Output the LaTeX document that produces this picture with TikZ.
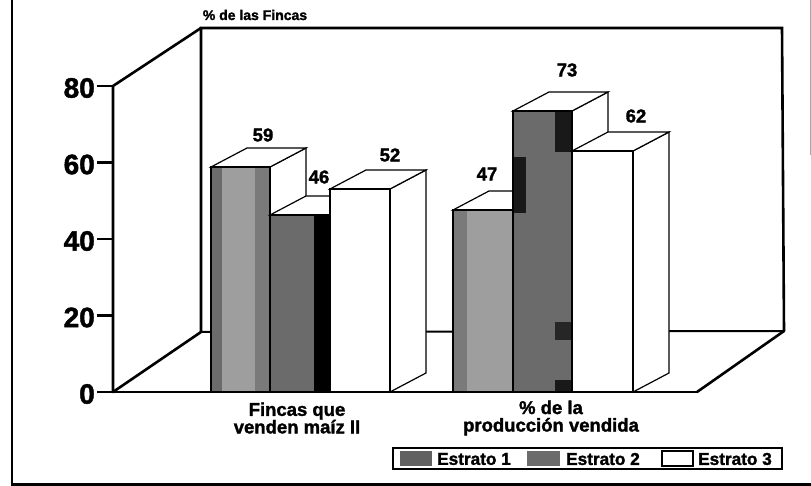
\documentclass[tikz,border=0pt]{standalone}
\usepackage{fontspec}
\setmainfont{Liberation Sans}
\newfontfamily\heavy{Liberation Sans Bold}[FakeBold=1.6]
\newcommand\drawbox[5]{%
  \filldraw[barline, fill=white] (#1+#2,#3) -- ++(36,-19) -- (#1+#2+36,373) -- (#1+#2,392) -- cycle;
  \filldraw[barline, fill=white] (#1,#3) -- ++(36,-19) -- ++(#2,0) -- (#1+#2,#3) -- cycle;
  \fill[#4] (#1,#3) rectangle (#1+#2,392);
  #5
  \draw[barline] (#1,#3) rectangle (#1+#2,392);
}
\begin{document}
\begin{tikzpicture}[x=1pt,y=-1pt,
  wall/.style={line width=2.6pt, line join=miter, line cap=round},
  barline/.style={line width=1.2pt, line join=miter},
  axlbl/.style={font=\heavy\fontsize{28}{28}\selectfont, inner sep=0pt, anchor=east},
  vallbl/.style={font=\heavy\fontsize{18.5}{18.5}\selectfont, inner sep=0pt},
  catlbl/.style={font=\heavy\fontsize{18.5}{17.5}\selectfont, inner sep=0pt, align=center},
  leglbl/.style={font=\heavy\fontsize{17.2}{17.2}\selectfont, inner sep=0pt, anchor=west},
  estA/.style={fill=black!38},
  estB/.style={fill=black!58}]
\useasboundingbox (0,0) rectangle (811,486);
\fill[white] (0,0) rectangle (811,486);
% outer frame
\draw[line width=2.4pt] (12,0) -- (12,484.5) -- (811,484.5);
\draw[black!35, line width=1pt] (810,0) -- (810,155);
% back wall and floor
\draw[wall] (201,332) -- (201,28) -- (782,28) -- (784,331);
\draw[line width=2pt] (201,332) -- (784,331);
\draw[wall] (113,392) -- (201,332);
\draw[wall] (113,392) -- (113,86) -- (201,28);
\draw[wall] (697,392) -- (784,331);
% ticks and axis labels
\foreach \v/\yy in {0/392,20/315.5,40/239,60/162.5,80/86}{
  \draw[line width=2.4pt] (97,\yy) -- (113,\yy);
  \node[axlbl] (ax\v) at (95,\yy+2) {\v};
}
\node[font=\heavy\fontsize{14}{14}\selectfont, inner sep=0pt] (title) at (255,15) {\% de las Fincas};
% group 1
\drawbox{211}{59}{167}{estA}{%
  \fill[black!58] (211,167) rectangle (222,392);
  \fill[black!52] (255,167) rectangle (270,392);}
\drawbox{270}{60}{215}{estB}{%
  \fill[black] (314,215) rectangle (330,392);}
\drawbox{330}{60}{189}{white}{}
% group 2
\drawbox{453}{60}{210}{estA}{%
  \fill[black!52] (453,210) rectangle (467,392);}
\drawbox{513}{59}{111}{estB}{%
  \fill[black!90] (555,111) rectangle (572,152);
  \fill[black!90] (513,157) rectangle (526,213);
  \fill[black!85] (555,322) rectangle (572,340);
  \fill[black!90] (555,380) rectangle (572,392);}
\drawbox{572}{61}{151}{white}{}
% floor front edge
\draw[line width=2.2pt] (113,392) -- (697,392);
% value labels
\node[vallbl] (v59) at (263,135) {59};
\node[vallbl] (v46) at (319,177) {46};
\node[vallbl] (v52) at (390,155) {52};
\node[vallbl] (v47) at (487,174) {47};
\node[vallbl] (v73) at (567,70) {73};
\node[vallbl] (v62) at (636,116) {62};
% category labels
\node[catlbl] (cat1) at (297,418) {Fincas que\\venden maíz II};
\node[catlbl] (cat2) at (551,418) {\% de la\\producción vendida};
% legend
\draw[line width=1.4pt] (393,448) rectangle (782,469);
\fill[black!62] (400,451) rectangle (432,466);
\node[leglbl] (l1) at (437,459) {Estrato 1};
\fill[black!58] (527,451) rectangle (560,466);
\node[leglbl] (l2) at (566,459) {Estrato 2};
\draw[line width=1.2pt, fill=white] (662,451) rectangle (693,466);
\node[leglbl] (l3) at (698,459) {Estrato 3};
\end{tikzpicture}
\end{document}
